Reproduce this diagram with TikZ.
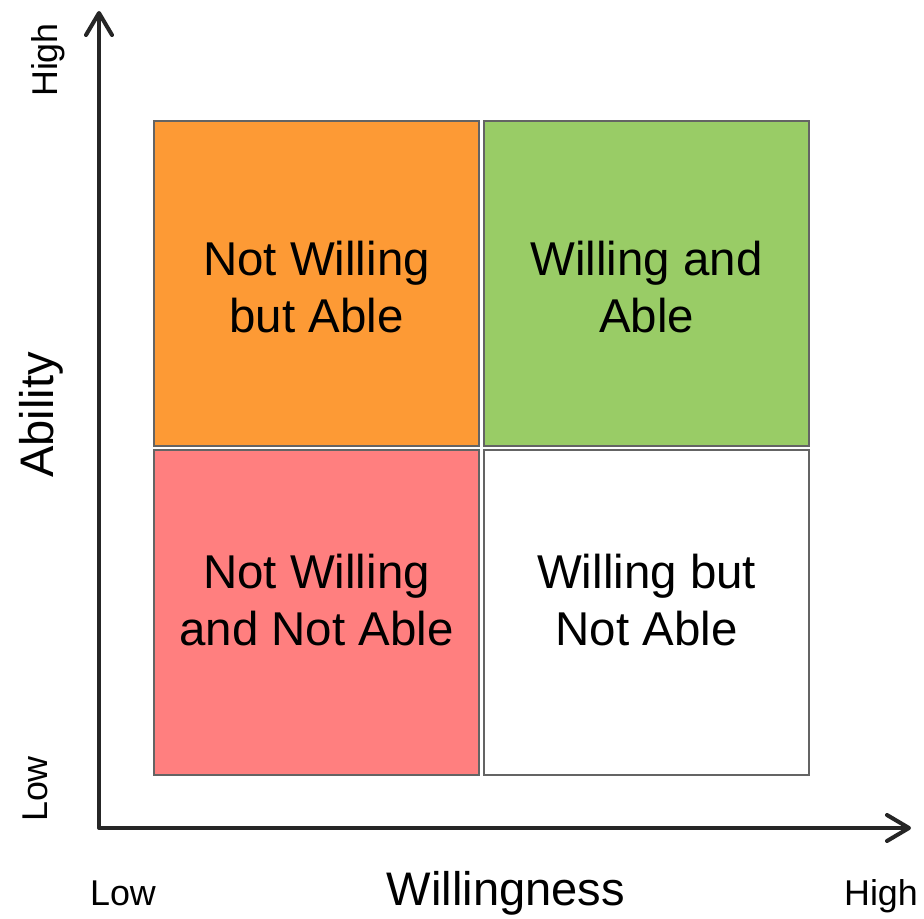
\documentclass[tikz,border=0pt]{standalone}
\usepackage{fontspec}
\setmainfont{Liberation Sans}
\usepackage{xcolor}
\usepackage{tikz}
\usetikzlibrary{positioning}
\usetikzlibrary{arrows.meta}

\definecolor{naranja}{HTML}{FD9A35}
\definecolor{verde}{HTML}{99CC66}
\definecolor{rosa}{HTML}{FF7F7F}
\definecolor{borde}{HTML}{646464}
\definecolor{ejecolor}{HTML}{262626}

\begin{document}
\begin{tikzpicture}[
    caja/.style={draw=borde, line width=0.6pt, minimum width=3.25cm, minimum height=3.25cm,
      inner sep=0pt},
    texto/.style={align=center, font=\fontsize{13.5}{16.2}\selectfont},
    eje/.style={draw=ejecolor, line width=1.15pt, line cap=round, line join=round},
    grande/.style={font=\fontsize{13.4}{16}\selectfont, anchor=base},
    chico/.style={font=\fontsize{10.2}{12}\selectfont, anchor=base}
  ]
  \useasboundingbox (0,0) rectangle (9.24,9.18);

  % Ejes
  \coordinate (origen) at (0.99,0.90);
  \coordinate (arriba) at (0.99,9.07);
  \coordinate (derecha) at (9.11,0.90);
  \draw[eje, {Straight Barb[length=2.2mm,width=2.6mm,round]}-{Straight Barb[length=2.2mm,width=2.6mm,round]}]
    (arriba) |- (derecha);

  % Cuadrantes
  \node[caja, fill=naranja] (noquiere) at (3.165,6.345) {};
  \node[caja, fill=verde, right=0.03cm of noquiere] (quiere) {};
  \node[caja, fill=rosa, below=0.02cm of noquiere] (nada) {};
  \node[caja, fill=white, right=0.03cm of nada] (nopuede) {};

  % Textos de los cuadrantes
  \node[texto, below=0.04cm of noquiere.center, anchor=center] (tnoquiere) {Not Willing\\but Able};
  \node[texto, below=0.04cm of quiere.center, anchor=center] (tquiere) {Willing and\\Able};
  \node[texto, above=0.13cm of nada.center, anchor=center] (tnada) {Not Willing\\and Not Able};
  \node[texto, above=0.13cm of nopuede.center, anchor=center] (tnopuede) {Willing but\\Not Able};

  % Etiquetas del eje x
  \node[chico] (xbajo) at (1.23,0.13) {Low};
  \node[grande] (xtitulo) at (5.06,0.13) {Willingness};
  \node[chico] (xalto) at (8.81,0.13) {High};

  % Etiquetas del eje y
  \node[chico, rotate=90] (yalto) at (0.57,8.58) {High};
  \node[grande, rotate=90] (ytitulo) at (0.54,5.03) {Ability};
  \node[chico, rotate=90] (ybajo) at (0.48,1.29) {Low};
\end{tikzpicture}
\end{document}
